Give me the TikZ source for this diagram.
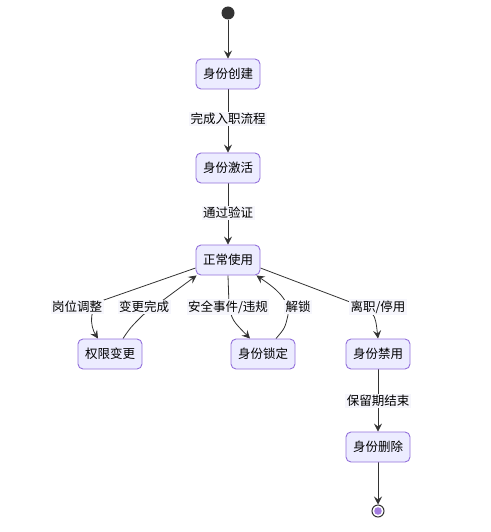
\documentclass[tikz,border=0pt]{standalone}
\usepackage{fontspec}
\setmainfont{Noto Sans CJK SC}
\usepackage{tikz}
\usetikzlibrary{positioning}
\usetikzlibrary{arrows.meta}
\usetikzlibrary{backgrounds}
\definecolor{boxfill}{HTML}{ECECFF}
\definecolor{boxline}{HTML}{9370DB}
\definecolor{linegray}{HTML}{333333}
\definecolor{lblfill}{RGB}{246,246,252}
\definecolor{endfill}{HTML}{A47EE0}
\tikzset {
  x=1pt, y=-1pt,
  % state boxes
  state/.style = {draw=boxline, fill=boxfill, line width=0.9pt, rounded corners=5pt,
    minimum width=64pt, minimum height=30pt, inner sep=2pt, text=black,
    font=\fontsize{12.5}{15}\selectfont},
  % labels on the transitions
  lbl/.style = {fill=lblfill, inner sep=1.5pt, text=black,
    font=\fontsize{12.5}{15}\selectfont},
  % transitions
  edge/.style = {draw=linegray, line width=0.8pt,
    -{Stealth[length=8pt,width=8pt,inset=3pt]}},
  startdot/.style = {circle, fill=linegray, minimum size=13pt, inner sep=0pt},
}

\begin{document}
\begin{tikzpicture}
      \useasboundingbox (0,0) rectangle (490,532);

      \node[startdot] (start) at (228, 13) {};
      \node[state] (create)   at (228, 74)  {身份创建};
      \node[state] (activate) at (228, 168) {身份激活};
      \node[state] (normal)   at (228, 260) {正常使用};
      \node[state] (perm)     at (110, 354) {权限变更};
      \node[state] (lock)     at (263, 354) {身份锁定};
      \node[state] (disable)  at (378, 354) {身份禁用};
      \node[state] (delete)   at (378, 447) {身份删除};
      \node[circle, draw=linegray, line width=1pt, fill=white, minimum size=12pt, inner sep=0pt] (end) at (378, 511) {};
      \fill[endfill] (end.center) circle (3.8pt);

      \node[lbl] (l1) at (228, 119) {完成入职流程};
      \node[lbl] (l2) at (228, 213) {通过验证};
      \node[lbl] (l3) at (77, 307)  {岗位调整};
      \node[lbl] (l4) at (144, 307) {变更完成};
      \node[lbl] (l5) at (228, 307) {安全事件/违规};
      \node[lbl] (l6) at (298, 307) {解锁};
      \node[lbl] (l7) at (378, 307) {离职/停用};
      \node[lbl] (l8) at (378, 401) {保留期结束};

      \begin{scope}[on background layer]
        \draw[edge] (start) -- (create);
        \draw[edge] (create) -- (activate);
        \draw[edge] (activate) -- (normal);
        \draw[edge] ([yshift=-8pt]normal.west) -- (104, 300)
          .. controls (88, 306) and (90, 326) .. ([xshift=-12pt]perm.north);
        \draw[edge] ([xshift=13pt]perm.north) .. controls (130, 328) .. (143, 315)
          -- ([xshift=1pt]normal.south west);
        \draw[edge] (normal.south) -- (229, 305)
          .. controls (232, 320) .. ([xshift=-13pt]lock.north);
        \draw[edge] ([xshift=13pt]lock.north) .. controls (285, 328) .. (288, 315)
          .. controls (290, 298) and (272, 286) .. ([xshift=-4pt]normal.south east);
        \draw[edge] ([yshift=-8pt]normal.east) -- (350, 302)
          .. controls (375, 312) .. (disable.north);
        \draw[edge] (disable) -- (delete);
        \draw[edge] (delete) -- (end);
      \end{scope}
\end{tikzpicture}
\end{document}
